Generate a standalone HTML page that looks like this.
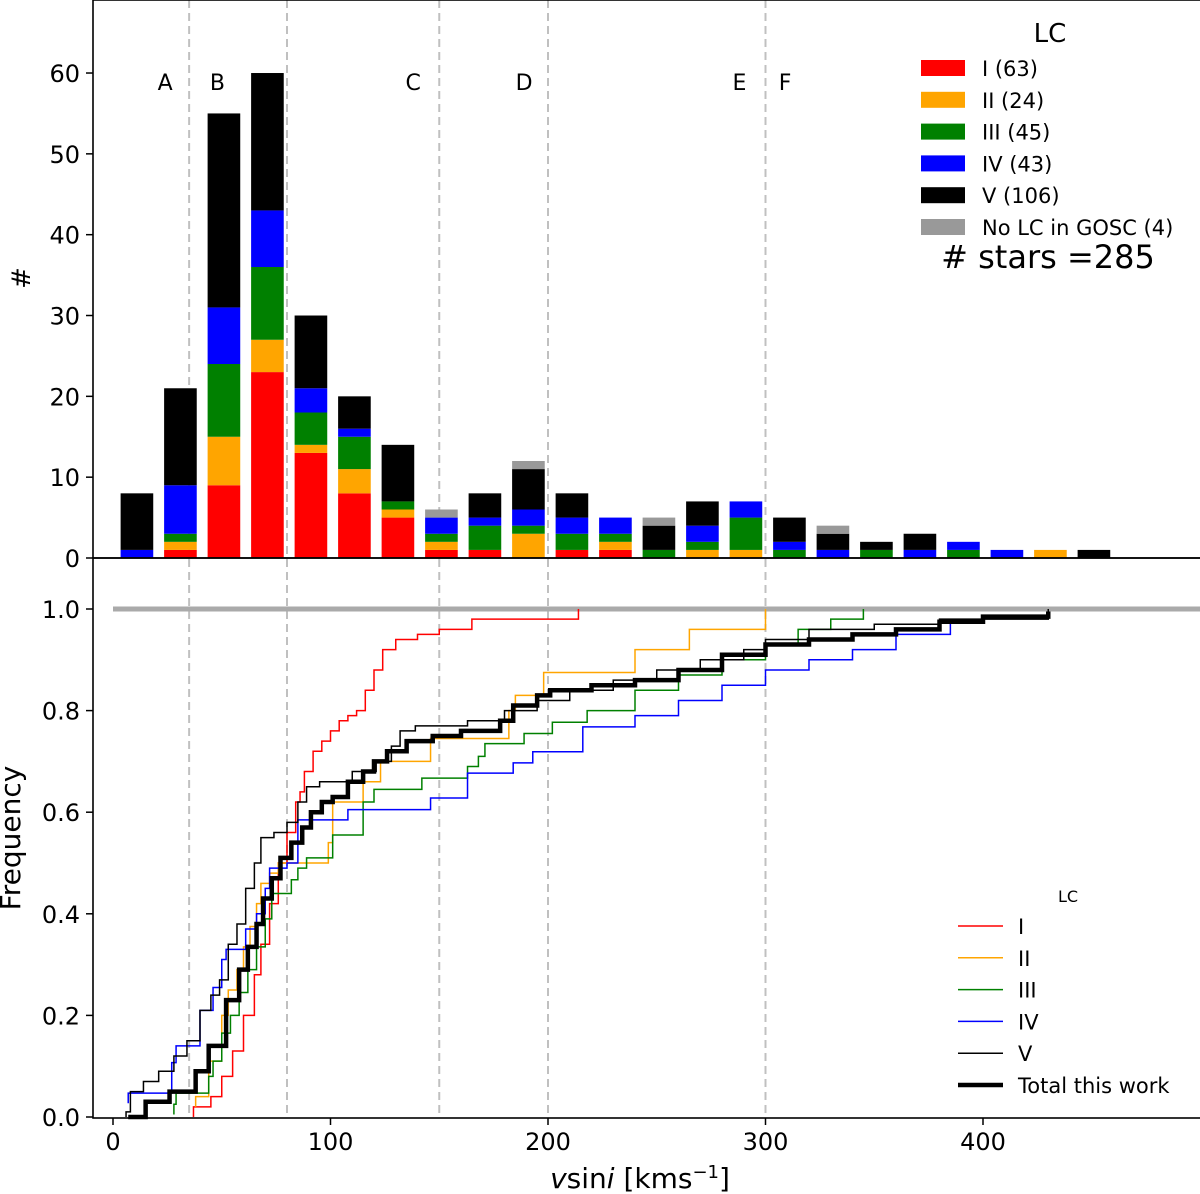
<!DOCTYPE html>
<html><head><meta charset="utf-8"><style>
body{margin:0;background:#fff;}
svg{display:block;font-family:"DejaVu Sans","Liberation Sans",sans-serif;}
</style></head><body>
<svg id="chart" width="1200" height="1194" viewBox="0 0 1200 1194"></svg>
<script>
// ---- data ----
const binCenters=[11,31,51,71,91,111,131,151,171,191,211,231,251,271,291,311,331,351,371,391,411,431,451];
const lcI  =[0,1,9,23,13,8,5,1,1,0,1,1,0,0,0,0,0,0,0,0,0,0,0];
const lcII =[0,1,6,4,1,3,1,1,0,3,0,1,0,1,1,0,0,0,0,0,0,1,0];
const lcIII=[0,1,9,9,4,4,1,1,3,1,2,1,1,1,4,1,0,1,0,1,0,0,0];
const lcIV =[1,6,7,7,3,1,0,2,1,2,2,2,0,2,2,1,1,0,1,1,1,0,0];
const lcV  =[7,12,24,17,9,4,7,0,3,5,3,0,3,3,0,3,2,1,2,0,0,0,1];
const lcNo =[0,0,0,0,0,0,0,1,0,1,0,0,1,0,0,0,1,0,0,0,0,0,0];
const topTicks=[0,10,20,30,40,50,60];
const botTicks=[0.0,0.2,0.4,0.6,0.8,1.0];
const xTicks=[0,100,200,300,400];
const regionLines=[35,80,150,200,300];
const regionLabels=["A","B","C","D","E","F"];
const regionLabelX=[24,48,138,189,288,309];
const cdfIx=[37,45,50,55,60,65,68,72,76,80,84,86,88,92,96,100,104,108,112,116,120,124,130,140,150,165,214];
const cdfIy=[0.02,0.04,0.08,0.13,0.2,0.28,0.34,0.42,0.5,0.56,0.62,0.64,0.68,0.72,0.74,0.76,0.78,0.79,0.8,0.84,0.88,0.92,0.94,0.95,0.96,0.98,1.0];
const cdfIIx=[38,44,50,53,57,60,63,66,68,72,76,80,99,101,115,123,146,182,185,198,240,265,300];
const cdfIIy=[0.04,0.11,0.2,0.25,0.29,0.335,0.375,0.42,0.46,0.48,0.5,0.5,0.54,0.62,0.66,0.70,0.745,0.8,0.83,0.875,0.92,0.96,1.0];
const cdfIIIx=[28,29,44,46,50,54,58,62,66,70,73,82,85,89,101,115,120,142,163,168,171,189,202,218,240,260,280,300,315,330,345];
const cdfIIIy=[0.025,0.047,0.08,0.11,0.165,0.2,0.245,0.29,0.335,0.39,0.44,0.467,0.49,0.51,0.555,0.62,0.645,0.667,0.69,0.71,0.735,0.755,0.777,0.8,0.84,0.87,0.9,0.93,0.96,0.98,1.0];
const cdfIVx=[7,27,29,40,46,50,52,61,66,70,72,80,85,108,146,163,184,193,216,240,260,280,300,320,340,360,385];
const cdfIVy=[0.047,0.107,0.14,0.21,0.255,0.31,0.33,0.37,0.4,0.45,0.49,0.5,0.585,0.605,0.628,0.677,0.697,0.719,0.768,0.79,0.82,0.85,0.88,0.9,0.92,0.95,0.98];
const cdfVx=[6,8,14,21,28,34,40,45,49,53,57,61,65,68,74,80,85,89,95,110,121,128,132,139,163,180,195,210,230,250,270,290,300,320,350,380,430];
const cdfVy=[0.01,0.05,0.07,0.09,0.12,0.15,0.21,0.24,0.27,0.34,0.38,0.45,0.5,0.55,0.56,0.58,0.62,0.65,0.66,0.68,0.70,0.73,0.76,0.77,0.78,0.80,0.82,0.84,0.86,0.88,0.90,0.92,0.94,0.96,0.97,0.98,1.0];
const cdfTx=[7,15,26,38,44,52,58,62,66,69,73,77,82,87,91,96,101,108,115,120,126,135,147,160,178,184,195,201,220,240,260,280,300,320,340,360,380,400,430];
const cdfTy=[0.0,0.03,0.05,0.09,0.14,0.23,0.29,0.335,0.38,0.43,0.47,0.51,0.54,0.57,0.6,0.62,0.63,0.66,0.68,0.70,0.72,0.74,0.75,0.76,0.78,0.81,0.83,0.84,0.85,0.86,0.88,0.91,0.93,0.94,0.95,0.96,0.975,0.985,0.995];

// ---- scales ----
const X=v=>113+v*2.175;
const YT=v=>558-v*8.083;
const YB=v=>1117-v*508;
const NS="http://www.w3.org/2000/svg";
const svg=document.getElementById('chart');
function mk(tag,attrs,parent){const e=document.createElementNS(NS,tag);for(const k in attrs)e.setAttribute(k,attrs[k]);(parent||svg).appendChild(e);return e;}
function txt(s,x,y,size,anchor,name,extra){const t=mk('text',Object.assign({x:x,y:y,'font-size':size,'text-anchor':anchor||'start',fill:'#000'},extra||{}));t.textContent=s;


return t;}

// region dashed lines
regionLines.forEach(v=>{const l=mk('line',{x1:X(v),x2:X(v),y1:0,y2:1118,stroke:'#c0c0c0','stroke-width':2,'stroke-dasharray':'8,5'});

});
regionLabels.forEach((s,i)=>txt(s,X(regionLabelX[i]),90,22,'middle','region-label-'+s));

// stacked bars
const series=[[lcI,'#ff0000','I'],[lcII,'#ffa500','II'],[lcIII,'#008000','III'],[lcIV,'#0000ff','IV'],[lcV,'#000000','V'],[lcNo,'#999999','nolc']];
binCenters.forEach((c,i)=>{let base=0;series.forEach(s=>{const v=s[0][i];if(v>0){const r=mk('rect',{x:X(c-7.5),width:15*2.175,y:YT(base+v),height:YT(base)-YT(base+v),fill:s[1]});

}base+=v;});});

// gray line at 1
const g1=mk('line',{x1:X(0),x2:1200,y1:YB(1),y2:YB(1),stroke:'#aaaaaa','stroke-width':5});



// CDFs
function step(xs,ys,color,w,name){let d='M'+X(xs[0])+','+YB(Math.max(0,ys[0]-0.02))+' L'+X(xs[0])+','+YB(ys[0]);
for(let i=1;i<xs.length;i++){d+=' L'+X(xs[i])+','+YB(ys[i-1])+' L'+X(xs[i])+','+YB(ys[i]);}
const p=mk('path',{d:d,fill:'none',stroke:color,'stroke-width':w,'stroke-linejoin':'miter'});

}
step(cdfIx,cdfIy,'#ff0000',1.5,'cdf-lc-i');
step(cdfIIx,cdfIIy,'#ffa500',1.5,'cdf-lc-ii');
step(cdfIIIx,cdfIIIy,'#008000',1.5,'cdf-lc-iii');
step(cdfIVx,cdfIVy,'#0000ff',1.5,'cdf-lc-iv');
step(cdfVx,cdfVy,'#000000',1.5,'cdf-lc-v');
step(cdfTx,cdfTy,'#000000',4.5,'cdf-total');

// axes frames
const f1=mk('rect',{x:93,y:0,width:1120,height:558,fill:'none',stroke:'#000','stroke-width':1.6});


const f2=mk('rect',{x:93,y:558,width:1120,height:560,fill:'none',stroke:'#000','stroke-width':1.6});



// ticks
topTicks.forEach(v=>{mk('line',{x1:86,x2:93,y1:YT(v),y2:YT(v),stroke:'#000','stroke-width':1.5});txt(String(v),80,YT(v)+9,24,'end','y-tick-top-'+v);});
botTicks.forEach(v=>{mk('line',{x1:86,x2:93,y1:YB(v),y2:YB(v),stroke:'#000','stroke-width':1.5});txt(v.toFixed(1),80,YB(v)+9,24,'end','y-tick-bottom-'+v);});
xTicks.forEach(v=>{mk('line',{x1:X(v),x2:X(v),y1:1118,y2:1125,stroke:'#000','stroke-width':1.5});txt(String(v),X(v),1150,24,'middle','x-tick-'+v);});

// axis labels
txt('#',30,278,26,'middle','y-axis-title-count',{transform:'rotate(-90 30 278)'});
txt('Frequency',20,838,28,'middle','y-axis-title-frequency',{transform:'rotate(-90 20 838)'});
const xl=mk('text',{x:640,y:1188,'font-size':28,'text-anchor':'middle'});


xl.innerHTML='<tspan font-style="italic">v</tspan>sin<tspan font-style="italic">i</tspan> [kms<tspan dy="-10" font-size="18">−1</tspan><tspan dy="10">]</tspan>';

// top legend
txt('LC',1050,42,26,'middle','top-legend-title');
const tl=[['#ff0000','I (63)'],['#ffa500','II (24)'],['#008000','III (45)'],['#0000ff','IV (43)'],['#000000','V (106)'],['#999999','No LC in GOSC (4)']];
tl.forEach((e,i)=>{const y=68+i*31.8;const r=mk('rect',{x:921,y:y-8,width:44,height:16,fill:e[0]});


txt(e[1],982,y+8,21,'start','top-legend-label');});
txt('# stars =285',1048,268,32,'middle','star-count');

// bottom legend
txt('LC',1068,902,16,'middle','bottom-legend-title');
const bl=[['#ff0000','I',1.5],['#ffa500','II',1.5],['#008000','III',1.5],['#0000ff','IV',1.5],['#000000','V',1.5],['#000000','Total this work',4.5]];
bl.forEach((e,i)=>{const y=926+i*31.8;const l=mk('line',{x1:958,x2:1003,y1:y,y2:y,stroke:e[0],'stroke-width':e[2]});


txt(e[1],1018,y+8,21,'start','bottom-legend-label');});
</script>
</body></html>
